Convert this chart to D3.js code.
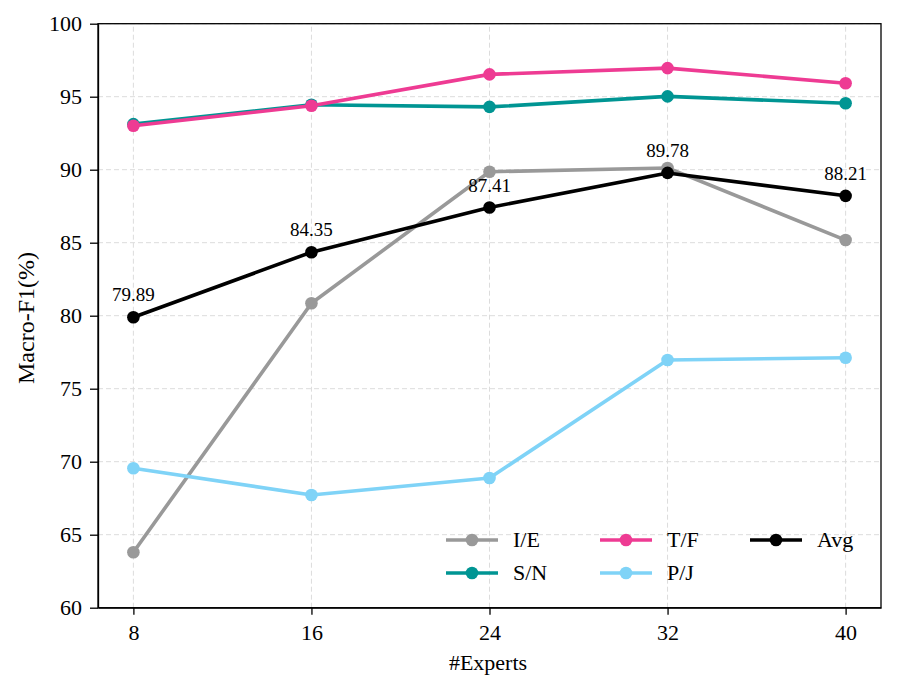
<!DOCTYPE html>
<html>
<head>
<meta charset="utf-8">
<script src="https://cdn.jsdelivr.net/npm/d3@7"></script>
<style>
  body { margin: 0; background: #fff; }
</style>
</head>
<body>
<div class="chart"></div>
<script>
var experts = [8, 16, 24, 32, 40];
var ie = [63.8, 80.85, 89.86, 90.12, 85.18];
var sn = [93.12, 94.45, 94.3, 95.02, 94.55];
var tf = [93.01, 94.38, 96.53, 96.96, 95.92];
var pj = [69.55, 67.72, 68.88, 76.97, 77.12];
var avg = [79.89, 84.35, 87.41, 89.78, 88.21];
var yTicks = [60, 65, 70, 75, 80, 85, 90, 95, 100];

var series = [
    { name: "I/E", values: ie, color: "#999999" },
    { name: "S/N", values: sn, color: "#009593" },
    { name: "T/F", values: tf, color: "#ee3b93" },
    { name: "P/J", values: pj, color: "#7fd3f7" },
    { name: "Avg", values: avg, color: "#000000" }
];

var font = "'Liberation Serif', 'Times New Roman', serif";

var svg = d3.select(".chart")
    .append("svg")
    .attr("width", 897)
    .attr("height", 692)

var x = d3.scaleLinear().domain([6.41, 41.59]).range([98, 881])
var y = d3.scaleLinear().domain([60, 100]).range([607.7, 23.7])

// grid
svg.append("g").selectAll("line")
    .data(experts)
    .join("line")
    .attr("x1", d => x(d))
    .attr("x2", d => x(d))
    .attr("y1", y(60))
    .attr("y2", y(100))
    .style("stroke", "#dcdcdc")
    .style("stroke-width", 1)
    .style("stroke-dasharray", "5,3")

svg.append("g").selectAll("line")
    .data(yTicks)
    .join("line")
    .attr("x1", x.range()[0])
    .attr("x2", x.range()[1])
    .attr("y1", d => y(d))
    .attr("y2", d => y(d))
    .style("stroke", "#dcdcdc")
    .style("stroke-width", 1)
    .style("stroke-dasharray", "5,3")

// axes
var xAxis = svg.append("g")
    .attr("transform", "translate(0," + y(60) + ")")
    .call(d3.axisBottom(x).tickValues(experts).tickSizeInner(7).tickSizeOuter(0).tickPadding(10))
var yAxis = svg.append("g")
    .attr("transform", "translate(" + x.range()[0] + ",0)")
    .call(d3.axisLeft(y).tickValues(yTicks).tickSizeInner(8).tickSizeOuter(0).tickPadding(8))

svg.selectAll(".tick text")
    .style("font-family", font)
    .style("font-size", "22px")
    .attr("fill", "#000")
svg.selectAll(".domain, .tick line")
    .style("stroke", "#000")
    .style("stroke-width", 1.3)

// frame
svg.append("rect")
    .attr("x", x.range()[0])
    .attr("y", y(100))
    .attr("width", x.range()[1] - x.range()[0])
    .attr("height", y(60) - y(100))
    .attr("fill", "none")
    .style("stroke", "#000")
    .style("stroke-width", 1.3)

// lines
var line = d3.line()
    .x((d, i) => x(experts[i]))
    .y(d => y(d))

series.forEach(function (s) {
    svg.append("path")
        .datum(s.values)
        .attr("d", line)
        .attr("fill", "none")
        .style("stroke", s.color)
        .style("stroke-width", 3.6)
        .style("stroke-linejoin", "round")

    svg.append("g").selectAll("circle")
        .data(s.values)
        .join("circle")
        .attr("cx", (d, i) => x(experts[i]))
        .attr("cy", d => y(d))
        .attr("r", 6.3)
        .style("fill", s.color)
})

// avg labels
svg.append("g").selectAll("text")
    .data(avg)
    .join("text")
    .attr("x", (d, i) => x(experts[i]))
    .attr("y", d => y(d) - 16)
    .attr("text-anchor", "middle")
    .text(d => d.toFixed(2))
    .style("font-size", "19px")
    .attr("font-family", font)
    .attr("fill", "#000")

// legend
var legendCols = [446, 600, 750]
series.forEach(function (s, k) {
    var col = Math.floor(k / 2)
    var row = k % 2
    var lx = legendCols[col]
    var ly = 540 + row * 33
    svg.append("line")
        .attr("x1", lx)
        .attr("x2", lx + 52)
        .attr("y1", ly)
        .attr("y2", ly)
        .style("stroke", s.color)
        .style("stroke-width", 3.6)
    svg.append("circle")
        .attr("cx", lx + 26)
        .attr("cy", ly)
        .attr("r", 6.3)
        .style("fill", s.color)
    svg.append("text")
        .attr("x", lx + 67)
        .attr("y", ly + 7)
        .text(s.name)
        .style("font-size", "22px")
        .attr("font-family", font)
        .attr("fill", "#000")
})

// axis titles
svg.append("text")
    .attr("x", 488)
    .attr("y", 670)
    .attr("text-anchor", "middle")
    .text("#Experts")
    .style("font-size", "22px")
    .attr("font-family", font)
    .attr("fill", "#000")

svg.append("text")
    .attr("transform", "translate(34," + 318 + ") rotate(-90)")
    .attr("text-anchor", "middle")
    .text("Macro-F1(%)")
    .style("font-size", "24px")
    .attr("font-family", font)
    .attr("fill", "#000")
</script>
</body>
</html>
